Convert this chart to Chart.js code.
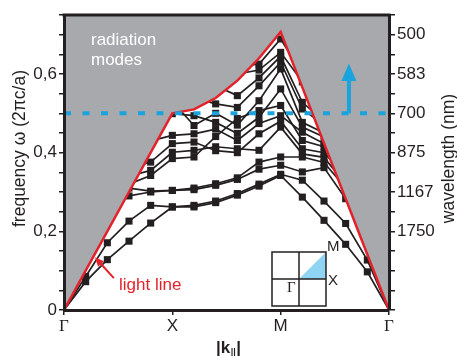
<!DOCTYPE html>
<html>
<head>
<meta charset="utf-8">
<script src="https://cdn.jsdelivr.net/npm/chart.js@4/dist/chart.umd.min.js"></script>
<style>
html,body{margin:0;padding:0;background:#ffffff;}
#wrap{width:457px;height:356px;}
</style>
</head>
<body>
<div id="wrap"><canvas id="c" width="457" height="356"></canvas></div>
<script>
// ---- data ----
const kPoints = [0, 0.2, 0.4, 0.6, 0.8, 1.0, 1.2, 1.4, 1.6, 1.8, 2.0, 2.2, 2.4, 2.6, 2.8, 3.0];
const kTickValues = [0, 1, 2, 3];
const kTickLabels = ['Γ', 'X', 'M', 'Γ'];
const freqTickValues = [0, 0.2, 0.4, 0.6];
const freqTickLabels = ['0', '0,2', '0,4', '0,6'];
const wavelengthTickValues = [0.2, 0.3, 0.4, 0.5, 0.6, 0.7];
const wavelengthTickLabels = ['1750', '1167', '875', '700', '583', '500'];

const lightLine = [0, 0.1, 0.2, 0.3, 0.4, 0.5, 0.51, 0.539, 0.583, 0.64, 0.707, 0.566, 0.424, 0.283, 0.141, 0];
const guideFrequency = 0.5;      // 700 nm
const arrowFrequencyTop = 0.627;

const band1  = [0, 0.072, 0.128, 0.175, 0.221, 0.262, 0.262, 0.273, 0.292, 0.315, 0.342, 0.287, 0.228, 0.167, 0.097, 0];
const band2  = [0, 0.085, 0.171, 0.226, 0.266, 0.262, 0.266, 0.277, 0.296, 0.320, 0.345, 0.330, 0.277, 0.220, 0.127, 0];
const band3  = [null, null, 0.300, 0.290, 0.300, 0.304, 0.306, 0.317, 0.332, 0.358, 0.368, 0.351, 0.362, 0.283, 0.220, null];
const band4  = [null, null, null, 0.310, 0.302, 0.304, 0.310, 0.321, 0.336, 0.376, 0.389, 0.389, 0.375, 0.310, null, null];
const band5  = [null, null, null, 0.320, 0.342, 0.385, 0.389, 0.441, 0.487, 0.507, 0.520, 0.431, 0.415, 0.330, null, null];
const band6  = [null, null, null, 0.340, 0.355, 0.401, 0.406, 0.415, 0.410, 0.406, 0.465, 0.397, 0.388, 0.320, null, null];
const band7  = [null, null, null, 0.360, 0.376, 0.423, 0.427, 0.405, 0.400, 0.448, 0.480, 0.410, 0.400, 0.340, null, null];
const band8  = [null, null, null, null, 0.430, 0.444, 0.448, 0.460, 0.431, 0.474, 0.494, 0.452, 0.423, 0.350, null, null];
const band9  = [null, null, null, null, 0.460, 0.499, 0.494, 0.477, 0.449, 0.490, 0.562, 0.465, 0.440, null, null, null];
const band10 = [null, null, null, null, null, 0.530, 0.469, 0.500, 0.470, 0.532, 0.613, 0.477, 0.450, null, null, null];
const band11 = [null, null, null, null, null, null, 0.540, 0.524, 0.515, 0.570, 0.630, 0.511, 0.470, null, null, null];
const band12 = [null, null, null, null, null, null, null, 0.570, 0.545, 0.590, 0.645, 0.528, 0.480, null, null, null];
const band13 = [null, null, null, null, null, null, null, null, 0.600, 0.610, 0.655, 0.580, null, null, null, null];
const band14 = [null, null, null, null, null, null, null, null, 0.620, 0.625, 0.689, 0.600, null, null, null, null];
const bands = [band1, band2, band3, band4, band5, band6, band7, band8, band9, band10, band11, band12, band13, band14];

// ---- styles ----
const INK = '#231f20';
const RED = '#e3222b';
const BLUE = '#1ba3de';
const GREY = '#a7a9ac';
const SANS = '"Liberation Sans", Arial, Helvetica, sans-serif';
const SERIF = '"Liberation Serif", "Times New Roman", serif';

const toXY = arr => kPoints.map((k, i) => ({x: k, y: arr[i]}));

const datasets = [];
datasets.push({
  label: 'guide',
  data: [{x: kPoints[0], y: guideFrequency}, {x: kPoints[kPoints.length - 1], y: guideFrequency}],
  borderColor: BLUE, borderWidth: 4, borderDash: [7, 11.5],
  pointRadius: 0, fill: false, order: 0
});
datasets.push({
  label: 'light line',
  data: toXY(lightLine),
  borderColor: RED, borderWidth: 2.5, backgroundColor: GREY,
  pointRadius: 0, fill: 'end', order: 1, tension: 0
});
bands.forEach((b, i) => {
  datasets.push({
    label: 'band' + (i + 1),
    data: toXY(b),
    borderColor: INK, borderWidth: 1.7,
    pointStyle: 'rect',
    pointRadius: ctx => (ctx.raw && ctx.raw.y === 0 ? 0 : 5),
    pointBackgroundColor: INK, pointBorderWidth: 0,
    fill: false, spanGaps: false, tension: 0, order: 2 + i
  });
});

const labelFor = (values, labels, v) => {
  for (let i = 0; i < values.length; i++) if (Math.abs(values[i] - v) < 1e-6) return labels[i];
  return '';
};

const decor = {
  id: 'decor',
  afterDraw(chart) {
    const {ctx, chartArea: a, scales} = chart;
    const xs = scales.x, ys = scales.y;
    ctx.save();
    // top frame
    ctx.strokeStyle = INK; ctx.lineWidth = 3;
    ctx.beginPath(); ctx.moveTo(a.left - 1.5, a.top); ctx.lineTo(a.right + 1.5, a.top); ctx.stroke();

    // radiation modes
    ctx.fillStyle = '#ffffff';
    ctx.font = '17px ' + SANS;
    ctx.textAlign = 'left'; ctx.textBaseline = 'alphabetic';
    ctx.fillText('radiation', a.left + 27, a.top + 30);
    ctx.fillText('modes', a.left + 27, a.top + 50);

    // blue arrow
    const ax = xs.getPixelForValue(2.63);
    const ay0 = ys.getPixelForValue(guideFrequency);
    const ay1 = ys.getPixelForValue(arrowFrequencyTop);
    ctx.strokeStyle = BLUE; ctx.fillStyle = BLUE; ctx.lineWidth = 4;
    ctx.beginPath(); ctx.moveTo(ax, ay0); ctx.lineTo(ax, ay1 + 15); ctx.stroke();
    ctx.beginPath(); ctx.moveTo(ax, ay1); ctx.lineTo(ax - 7.5, ay1 + 17.5); ctx.lineTo(ax + 7.5, ay1 + 17.5); ctx.closePath(); ctx.fill();

    // light line label + arrow
    const lx0 = xs.getPixelForValue(0.46), ly0 = ys.getPixelForValue(0.081);
    const lx1 = xs.getPixelForValue(0.286), ly1 = ys.getPixelForValue(0.134);
    ctx.strokeStyle = RED; ctx.fillStyle = RED; ctx.lineWidth = 2;
    const ang = Math.atan2(ly1 - ly0, lx1 - lx0);
    ctx.beginPath(); ctx.moveTo(lx0, ly0); ctx.lineTo(lx1 - 6 * Math.cos(ang), ly1 - 6 * Math.sin(ang)); ctx.stroke();
    ctx.beginPath();
    ctx.moveTo(lx1, ly1);
    ctx.lineTo(lx1 - 9 * Math.cos(ang) + 4 * Math.sin(ang), ly1 - 9 * Math.sin(ang) - 4 * Math.cos(ang));
    ctx.lineTo(lx1 - 9 * Math.cos(ang) - 4 * Math.sin(ang), ly1 - 9 * Math.sin(ang) + 4 * Math.cos(ang));
    ctx.closePath(); ctx.fill();
    ctx.font = '17px ' + SANS;
    ctx.fillText('light line', a.left + 55, a.bottom - 20);

    // Brillouin zone inset
    const bx = a.left + 208, by = a.top + 237, bs = 54, h = bs / 2;
    ctx.fillStyle = '#ffffff';
    ctx.fillRect(bx, by, bs, bs);
    ctx.fillStyle = '#8fd4f2';
    ctx.beginPath(); ctx.moveTo(bx + h, by + h); ctx.lineTo(bx + bs, by + h); ctx.lineTo(bx + bs, by); ctx.closePath(); ctx.fill();
    ctx.strokeStyle = INK; ctx.lineWidth = 1.5;
    ctx.strokeRect(bx, by, bs, bs);
    ctx.beginPath(); ctx.moveTo(bx + h, by); ctx.lineTo(bx + h, by + bs); ctx.moveTo(bx, by + h); ctx.lineTo(bx + bs, by + h); ctx.stroke();
    ctx.fillStyle = INK;
    ctx.font = '15px ' + SANS; ctx.textBaseline = 'middle';
    ctx.fillText('M', bx + bs + 1, by - 5);
    ctx.fillText('X', bx + bs + 2, by + h + 2);
    ctx.font = '15px ' + SERIF;
    ctx.fillText('Γ', bx + h - 12, by + h + 9);

    // axis titles
    ctx.fillStyle = INK; ctx.textAlign = 'center'; ctx.textBaseline = 'middle';
    ctx.save();
    ctx.translate(20, (a.top + a.bottom) / 2 - 14);
    ctx.rotate(-Math.PI / 2);
    ctx.font = '17.5px ' + SANS;
    ctx.fillText('frequency ω (2πc/a)', 0, 0);
    ctx.restore();
    ctx.save();
    ctx.translate(449, (a.top + a.bottom) / 2 - 4);
    ctx.rotate(-Math.PI / 2);
    ctx.font = '17.5px ' + SANS;
    ctx.fillText('wavelength (nm)', 0, 0);
    ctx.restore();

    // |k_||| title
    const cx = (a.left + a.right) / 2 + 2, base = 353;
    ctx.textAlign = 'left'; ctx.textBaseline = 'alphabetic';
    ctx.font = 'bold 17px ' + SANS;
    const w1 = ctx.measureText('|k').width;
    ctx.font = 'bold 9px ' + SANS;
    const w2 = ctx.measureText('||').width;
    ctx.font = 'bold 17px ' + SANS;
    const w3 = ctx.measureText('|').width;
    let sx = cx - (w1 + w2 + w3 + 1) / 2;
    ctx.fillText('|k', sx, base);
    ctx.font = 'bold 9px ' + SANS;
    ctx.fillText('||', sx + w1 + 0.5, base + 2);
    ctx.font = 'bold 17px ' + SANS;
    ctx.fillText('|', sx + w1 + w2 + 1, base);
    ctx.restore();
  }
};

const tickFont = {family: SANS, size: 17};

new Chart(document.getElementById('c'), {
  type: 'line',
  data: {datasets},
  options: {
    responsive: false,
    animation: false,
    devicePixelRatio: 1,
    layout: {padding: {top: 15, left: 0, right: 0, bottom: 0}},
    plugins: {legend: {display: false}, tooltip: {enabled: false}, title: {display: false}},
    scales: {
      x: {
        type: 'linear', position: 'bottom', min: 0, max: 3,
        afterBuildTicks: s => { s.ticks = kTickValues.map(v => ({value: v})); },
        afterFit: s => { s.height = 46; },
        grid: {drawOnChartArea: false, drawTicks: true, tickLength: 5, color: INK, lineWidth: 1.5},
        border: {display: true, color: INK, width: 3, z: 1},
        ticks: {
          autoSkip: false, maxRotation: 0, padding: 1, color: INK,
          font: ctx => ({family: kTickLabels[ctx.index] === 'Γ' ? SERIF : SANS, size: 17}),
          callback: (v, i) => kTickLabels[i]
        }
      },
      y: {
        type: 'linear', position: 'left', min: 0, max: 0.75,
        afterFit: s => { s.width = 64; },
        grid: {drawOnChartArea: false, drawTicks: true, tickLength: 5, color: INK, lineWidth: 1.5},
        border: {display: true, color: INK, width: 3, z: 1},
        ticks: {
          stepSize: 0.05, autoSkip: false, padding: 2, color: INK, font: tickFont,
          callback: v => labelFor(freqTickValues, freqTickLabels, v)
        }
      },
      y2: {
        type: 'linear', position: 'right', min: 0, max: 0.75,
        afterFit: s => { s.width = 68; },
        grid: {drawOnChartArea: false, drawTicks: true, tickLength: 6, color: INK, lineWidth: 1.5},
        border: {display: true, color: INK, width: 3, z: 1},
        ticks: {
          stepSize: 0.05, autoSkip: false, padding: 2, color: INK, font: tickFont,
          callback: v => labelFor(wavelengthTickValues, wavelengthTickLabels, v)
        }
      }
    }
  },
  plugins: [decor]
});
</script>
</body>
</html>
